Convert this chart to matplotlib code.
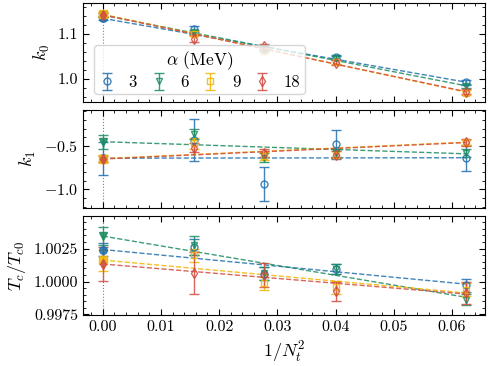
import matplotlib
matplotlib.use("Agg")
import matplotlib.pyplot as plt
from matplotlib.ticker import MultipleLocator, FormatStrFormatter
import numpy as np

plt.rcParams['font.family'] = 'serif'
plt.rcParams['font.serif'] = ['cmr10', 'DejaVu Serif']
plt.rcParams['mathtext.fontset'] = 'cm'
plt.rcParams['axes.formatter.use_mathtext'] = True

# data
alphas = [3, 6, 9, 18]
Nt = np.array([8, 6, 5, 4])
x_pts = 1.0 / Nt**2

colors = ['#1f6fae', '#1a8c5f', '#f2b500', '#d14b3f']
markers = ['o', 'v', 's', 'd']

# k0
k0_val = [[1.111, 1.067, 1.048, 0.993],
          [1.104, 1.068, 1.047, 0.985],
          [1.100, 1.063, 1.038, 0.970],
          [1.089, 1.072, 1.036, 0.972]]
k0_err = [[0.007, 0.004, 0.004, 0.005],
          [0.005, 0.004, 0.004, 0.005],
          [0.005, 0.004, 0.004, 0.005],
          [0.008, 0.005, 0.005, 0.005]]
k0_ext = [1.134, 1.141, 1.143, 1.142]
k0_ext_err = [0.004, 0.004, 0.004, 0.004]
k0_fit_end = [0.993, 0.985, 0.971, 0.972]

# k1
k1_val = [[-0.43, -0.94, -0.48, -0.635],
          [-0.36, -0.635, -0.58, -0.58],
          [-0.47, -0.615, -0.60, -0.455],
          [-0.52, -0.58, -0.60, -0.454]]
k1_err = [[0.24, 0.20, 0.17, 0.15],
          [0.06, 0.05, 0.05, 0.05],
          [0.06, 0.05, 0.04, 0.03],
          [0.05, 0.05, 0.04, 0.04]]
k1_ext = [-0.64, -0.45, -0.645, -0.65]
k1_ext_err = [0.19, 0.08, 0.04, 0.03]
k1_fit_end = [-0.635, -0.59, -0.455, -0.46]

# Tc / Tc0
tc_val = [[1.00263, 1.00060, 1.00095, 0.99970],
          [1.00275, 1.00063, 1.00095, 0.99863],
          [1.00200, 0.99988, 0.99955, 0.99938],
          [1.00068, 1.00050, 0.99925, 0.99913]]
tc_err = [[0.0006, 0.0005, 0.0004, 0.0005],
          [0.0007, 0.0005, 0.0004, 0.0004],
          [0.0005, 0.0005, 0.0005, 0.0005],
          [0.0016, 0.0009, 0.0007, 0.0008]]
tc_ext = [1.00243, 1.00345, 1.00163, 1.00133]
tc_ext_err = [0.0005, 0.0007, 0.0008, 0.0013]
tc_fit_end = [0.99980, 0.99880, 0.99913, 0.99905]

fig, axes = plt.subplots(3, 1, figsize=(4.88, 3.66), dpi=100, sharex=True)
fig.subplots_adjust(left=0.170, right=0.994, top=0.992, bottom=0.139, hspace=0.08)

panels = [
    (k0_val, k0_err, k0_ext, k0_ext_err, k0_fit_end),
    (k1_val, k1_err, k1_ext, k1_ext_err, k1_fit_end),
    (tc_val, tc_err, tc_ext, tc_ext_err, tc_fit_end),
]

handles = []
for ax, (vals, errs, ext, ext_err, fit_end) in zip(axes, panels):
    ax.axvline(0, color='gray', ls=':', lw=0.8, zorder=0)
    for i in range(4):
        c = colors[i]
        ax.plot([0, x_pts[-1]], [ext[i], fit_end[i]], ls='--', color=c, lw=1.0, alpha=0.85)
        h = ax.errorbar(x_pts, vals[i], yerr=errs[i], fmt=markers[i], color=c,
                        mfc='none', mec=c, ms=5, capsize=3.5, elinewidth=1.0, mew=1.0,
                        alpha=0.85, label=str(alphas[i]))
        ax.errorbar([0], [ext[i]], yerr=[ext_err[i]], fmt=markers[i], color=c,
                    ms=5.5, capsize=3.5, elinewidth=1.0, alpha=0.85)
        if ax is axes[0]:
            handles.append(h)
    ax.tick_params(which='both', direction='in', top=True, right=True, labelsize=11.5)
    ax.tick_params(which='major', length=4)
    ax.tick_params(which='minor', length=2)
    ax.xaxis.set_minor_locator(MultipleLocator(0.002))
    ax.xaxis.set_major_locator(MultipleLocator(0.01))

axes[0].set_ylim(0.95, 1.168)
axes[0].yaxis.set_major_locator(MultipleLocator(0.1))
axes[0].yaxis.set_minor_locator(MultipleLocator(0.02))
axes[0].yaxis.set_major_formatter(FormatStrFormatter('%.1f'))
axes[0].set_ylabel('$k_0$', fontsize=13)

axes[1].set_ylim(-1.22, -0.08)
axes[1].yaxis.set_major_locator(MultipleLocator(0.5))
axes[1].yaxis.set_minor_locator(MultipleLocator(0.1))
axes[1].yaxis.set_major_formatter(FormatStrFormatter('$%.1f$'))
axes[1].set_ylabel('$k_1$', fontsize=13)

axes[2].set_ylim(0.99745, 1.00495)
axes[2].yaxis.set_major_locator(MultipleLocator(0.0025))
axes[2].yaxis.set_minor_locator(MultipleLocator(0.0005))
axes[2].yaxis.set_major_formatter(FormatStrFormatter('%.4f'))
axes[2].set_ylabel('$T_c/T_{c0}$', fontsize=13)
axes[2].xaxis.set_major_formatter(FormatStrFormatter('%.2f'))
axes[2].set_xlabel('$1/N_t^2$', fontsize=13)
axes[2].set_xlim(-0.0034, 0.0657)

axes[0].legend(handles=handles, title=r'$\alpha$ (MeV)', ncol=4, loc='lower left',
               bbox_to_anchor=(0.02, 0.04), fontsize=12, title_fontsize=12.5,
               handletextpad=0.8, columnspacing=0.8, borderpad=0.25, labelspacing=0.2,
               handlelength=1.0, borderaxespad=0.2, framealpha=0.8)

fig.savefig('out.png', dpi=100)
